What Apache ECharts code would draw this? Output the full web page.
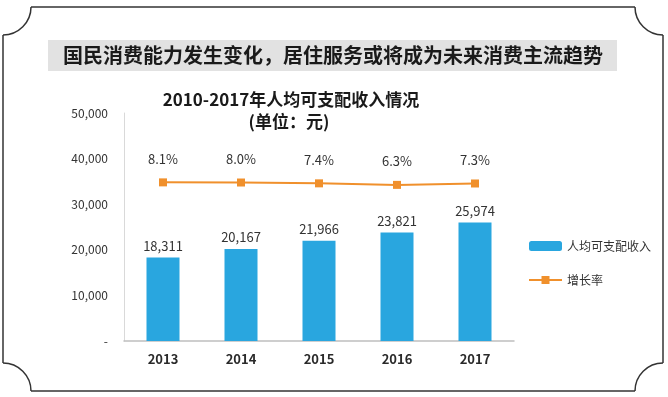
<!DOCTYPE html>
<html>
<head>
<meta charset="utf-8">
<script src="https://cdn.jsdelivr.net/npm/echarts@6/dist/echarts.min.js"></script>
<style>
  html, body { margin: 0; padding: 0; background: #fff; }
  #chart { width: 668px; height: 397px; }
</style>
</head>
<body>
<div id="chart"></div>
<script>
const years = ['2013', '2014', '2015', '2016', '2017'];
const income = [18311, 20167, 21966, 23821, 25974];
const growth = [8.1, 8.0, 7.4, 6.3, 7.3];

const font = '"Noto Sans CJK SC", "Noto Sans", sans-serif';
const fmt = v => v === 0 ? '-' : v.toLocaleString('en-US');

// decorative frame with notched corners
const frameStyle = { fill: 'none', stroke: '#333', lineWidth: 1.5 };
const R = 28;
const corners = [
  [3, 7, 0], [663, 7, Math.PI / 2], [663, 391, Math.PI], [3, 391, Math.PI * 1.5]
];
const frame = [
  { type: 'line', shape: { x1: 3 + R, y1: 7, x2: 663 - R, y2: 7 }, style: frameStyle },
  { type: 'line', shape: { x1: 663, y1: 7 + R, x2: 663, y2: 391 - R }, style: frameStyle },
  { type: 'line', shape: { x1: 3 + R, y1: 391, x2: 663 - R, y2: 391 }, style: frameStyle },
  { type: 'line', shape: { x1: 3, y1: 7 + R, x2: 3, y2: 391 - R }, style: frameStyle }
].concat(corners.map(c => ({
  type: 'arc',
  shape: { cx: c[0], cy: c[1], r: R, startAngle: c[2], endAngle: c[2] + Math.PI / 2, clockwise: true },
  style: frameStyle
})));

const chart = echarts.init(document.getElementById('chart'));
chart.setOption({
  animation: false,
  textStyle: { fontFamily: font },
  graphic: frame.concat([
    {
      type: 'rect',
      shape: { x: 48, y: 40, width: 569, height: 31 },
      style: { fill: '#e2e2e2' }
    },
    {
      type: 'text',
      x: 333, y: 55.5,
      style: {
        text: '国民消费能力发生变化，居住服务或将成为未来消费主流趋势',
        fill: '#1a1a1a', font: 'bold 20px ' + font,
        align: 'center', verticalAlign: 'middle'
      }
    },
    {
      type: 'text',
      x: 291, y: 100,
      style: {
        text: '2010-2017年人均可支配收入情况',
        fill: '#1a1a1a', font: 'bold 17px ' + font,
        align: 'center', verticalAlign: 'middle'
      }
    },
    {
      type: 'text',
      x: 289, y: 122,
      style: {
        text: '(单位：元)',
        fill: '#1a1a1a', font: 'bold 17px ' + font,
        align: 'center', verticalAlign: 'middle'
      }
    }
  ]),
  legend: {
    orient: 'vertical',
    left: 523,
    top: 235,
    itemWidth: 33,
    itemHeight: 10,
    itemGap: 22,
    textStyle: { fontSize: 12, color: '#333' },
    data: ['人均可支配收入', '增长率']
  },
  grid: { left: 124, right: 154, top: 113, bottom: 56 },
  xAxis: {
    type: 'category',
    data: years,
    axisLine: { lineStyle: { color: '#bfbfbf', width: 1.5 } },
    axisTick: { show: false },
    axisLabel: { margin: 12, fontSize: 13, fontWeight: 'bold', color: '#2a2a2a' }
  },
  yAxis: [
    {
      type: 'value',
      min: 0, max: 50000, interval: 10000,
      axisLine: { show: true, lineStyle: { color: '#d9d9d9' } },
      axisTick: { show: false },
      splitLine: { show: false },
      axisLabel: { margin: 16, fontSize: 12, color: '#333', formatter: fmt }
    },
    {
      type: 'value',
      min: -106, max: 58,
      show: false,
      splitLine: { show: false }
    }
  ],
  series: [
    {
      name: '人均可支配收入',
      type: 'bar',
      data: income,
      barWidth: 33,
      itemStyle: { color: '#29a6df' },
      label: {
        show: true, position: 'top', distance: 5,
        fontSize: 13, color: '#333',
        formatter: p => fmt(p.value)
      }
    },
    {
      name: '增长率',
      type: 'line',
      yAxisIndex: 1,
      data: growth,
      symbol: 'rect',
      symbolSize: 8,
      lineStyle: { color: '#f0902c', width: 2 },
      itemStyle: { color: '#f0902c' },
      label: {
        show: true, position: 'top', distance: 13,
        fontSize: 13, color: '#333',
        formatter: p => p.value.toFixed(1) + '%'
      }
    }
  ]
});
</script>
</body>
</html>
